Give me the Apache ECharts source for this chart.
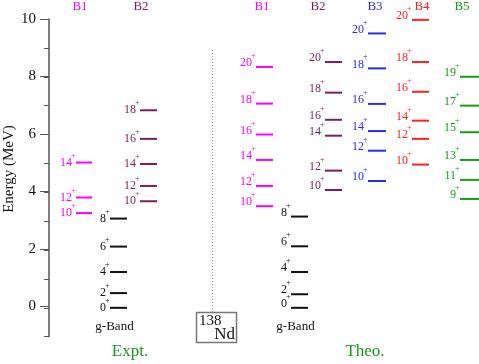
<!DOCTYPE html>
<html>
<head>
<meta charset="utf-8">
<script src="https://cdn.jsdelivr.net/npm/echarts@6/dist/echarts.min.js"></script>
<style>
  html, body { margin: 0; padding: 0; background: #fff; }
  #chart { width: 479px; height: 364px; }
</style>
</head>
<body>
<div id="chart"></div>
<script>
// level energies (MeV) and spins
var exptGSpins = [0, 2, 4, 6, 8];
var exptGEnergy = [0, 0.51, 1.24, 2.12, 3.09];
var exptB1Spins = [10, 12, 14];
var exptB1Energy = [3.28, 3.82, 5.03];
var exptB2Spins = [10, 12, 14, 16, 18];
var exptB2Energy = [3.69, 4.22, 4.98, 5.85, 6.84];

var theoGSpins = [0, 2, 4, 6, 8];
var theoGEnergy = [0, 0.47, 1.24, 2.13, 3.16];
var theoB1Spins = [10, 12, 14, 16, 18, 20];
var theoB1Energy = [3.52, 4.22, 5.12, 6.0, 7.07, 8.34];
var theoB2Spins = [10, 12, 14, 16, 18, 20];
var theoB2Energy = [4.08, 4.75, 5.96, 6.51, 7.45, 8.51];
var theoB3Spins = [10, 12, 14, 16, 18, 20];
var theoB3Energy = [4.39, 5.44, 6.12, 7.06, 8.29, 9.5];
var theoB4Spins = [10, 12, 14, 16, 18, 20];
var theoB4Energy = [4.96, 5.85, 6.48, 7.48, 8.51, 9.97];
var theoB5Spins = [9, 11, 13, 15, 17, 19];
var theoB5Energy = [3.77, 4.43, 5.12, 6.08, 7.0, 8.0];

var yMajorTicks = [0, 2, 4, 6, 8, 10];

var SERIF = '"Liberation Serif", "Times New Roman", serif';
var MAGENTA = '#ff00ff', PURPLE = '#7a1f5c', BLUE = '#2a2aee', RED = '#ff2020', GREEN = '#1a9a1a', BLACK = '#111';

// column layout (x in pixels, same as axis units)
var columns = [
  {name: 'B1', spins: exptB1Spins, energy: exptB1Energy, x: [76, 92], head: 80, color: MAGENTA, theo: false},
  {name: 'g-Band', spins: exptGSpins, energy: exptGEnergy, x: [110, 127], color: BLACK, theo: false},
  {name: 'B2', spins: exptB2Spins, energy: exptB2Energy, x: [140, 157], head: 141, color: PURPLE, theo: false},
  {name: 'B1', spins: theoB1Spins, energy: theoB1Energy, x: [256, 273], head: 262, color: MAGENTA, theo: true},
  {name: 'g-Band', spins: theoGSpins, energy: theoGEnergy, x: [291, 308], color: BLACK, theo: true},
  {name: 'B2', spins: theoB2Spins, energy: theoB2Energy, x: [325, 342], head: 318, color: PURPLE, theo: true},
  {name: 'B3', spins: theoB3Spins, energy: theoB3Energy, x: [368, 386], head: 375, color: BLUE, theo: true},
  {name: 'B4', spins: theoB4Spins, energy: theoB4Energy, x: [412, 429], head: 422, color: RED, theo: true},
  {name: 'B5', spins: theoB5Spins, energy: theoB5Energy, x: [460, 479], head: 462, color: GREEN, theo: true}
];

function levelSeries(col) {
  return {
    type: 'custom',
    xAxisIndex: 0,
    yAxisIndex: 0,
    silent: true,
    clip: false,
    data: col.energy.map(function (e, i) { return [e, col.spins[i]]; }),
    renderItem: function (params, api) {
      var e = api.value(0), s = api.value(1);
      var p1 = api.coord([col.x[0], e]);
      var p2 = api.coord([col.x[1], e]);
      var dy = col.theo ? -4 : 0;
      return {
        type: 'group',
        children: [
          {type: 'line', shape: {x1: p1[0], y1: p1[1], x2: p2[0], y2: p2[1]},
            style: {stroke: col.color, lineWidth: 2}},
          {type: 'text', style: {text: String(s), x: p1[0] - 4, y: p1[1] + dy,
            align: 'right', verticalAlign: 'middle', fill: col.color, font: '12px ' + SERIF}},
          {type: 'text', style: {text: '+', x: p1[0] - 0.5, y: p1[1] + dy - 3,
            align: 'right', verticalAlign: 'bottom', fill: col.color, font: '8px ' + SERIF}}
        ]
      };
    }
  };
}

var chart = echarts.init(document.getElementById('chart'), null, {renderer: 'canvas'});

var graphics = [];
columns.forEach(function (col) {
  if (col.head) {
    graphics.push({type: 'text', x: col.head, y: 7, silent: true,
      style: {text: col.name, align: 'center', verticalAlign: 'middle', fill: col.color, font: '13px ' + SERIF}});
  } else {
    graphics.push({type: 'text', x: (col.x[0] + col.x[1]) / 2 - 4, y: 327, silent: true,
      style: {text: col.name, align: 'center', verticalAlign: 'middle', fill: BLACK, font: '13px ' + SERIF}});
  }
});
graphics.push(
  {type: 'text', x: 130, y: 352, style: {text: 'Expt.', align: 'center', verticalAlign: 'middle', fill: GREEN, font: '17px ' + SERIF}},
  {type: 'text', x: 365, y: 352, style: {text: 'Theo.', align: 'center', verticalAlign: 'middle', fill: GREEN, font: '17px ' + SERIF}},
  {type: 'text', x: 9, y: 169, rotation: Math.PI / 2,
    style: {text: 'Energy (MeV)', align: 'center', verticalAlign: 'middle', fill: '#111', font: '15px ' + SERIF}},
  {type: 'line', shape: {x1: 212.5, y1: 50, x2: 212.5, y2: 312},
    style: {stroke: '#888', lineWidth: 1, lineDash: [1, 2]}},
  {type: 'rect', shape: {x: 196.5, y: 312.5, width: 40, height: 30},
    style: {fill: '#fff', stroke: '#777', lineWidth: 1.5}},
  {type: 'text', x: 199, y: 314, style: {text: '138', align: 'left', verticalAlign: 'top', fill: '#111', font: '15px ' + SERIF}},
  {type: 'text', x: 235, y: 343, style: {text: 'Nd', align: 'right', verticalAlign: 'bottom', fill: '#111', font: '17px ' + SERIF}}
);

chart.setOption({
  animation: false,
  backgroundColor: '#fff',
  grid: [
    {left: 49, right: 0, top: 19, bottom: 27.3},
    {left: 49, right: 0, top: 19, bottom: -1.6}
  ],
  xAxis: [
    {gridIndex: 0, type: 'value', min: 49, max: 479, show: false},
    {gridIndex: 1, type: 'value', min: 49, max: 479, show: false}
  ],
  yAxis: [
    {
      gridIndex: 0, type: 'value', min: -1, max: 10, interval: 1,
      axisLine: {show: true, lineStyle: {color: '#555', width: 1.5}},
      axisTick: {show: true, length: 5, lineStyle: {color: '#555', width: 1}},
      axisLabel: {show: false},
      splitLine: {show: false}
    },
    {
      gridIndex: 1, type: 'value', min: -2, max: 10, interval: 2,
      axisLine: {show: false},
      axisTick: {show: true, length: 9, lineStyle: {color: '#555', width: 1}},
      axisLabel: {
        show: true, margin: 13, color: '#111', fontSize: 15, fontFamily: SERIF,
        formatter: function (v) { return yMajorTicks.indexOf(v) >= 0 ? String(v) : ''; }
      },
      splitLine: {show: false}
    }
  ],
  series: columns.map(levelSeries),
  graphic: graphics
});

window.addEventListener('resize', chart.resize);
</script>
</body>
</html>
